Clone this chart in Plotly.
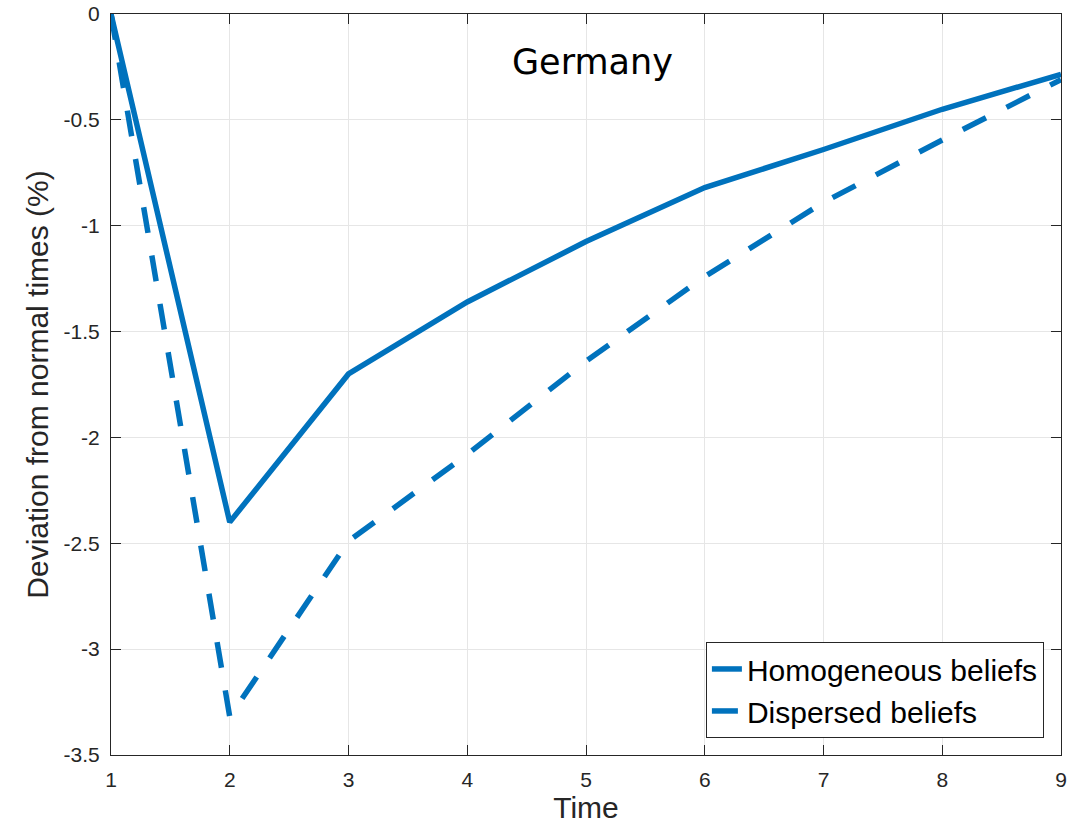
import plotly.graph_objects as go

# Simulated path of the shock, deviation from normal times (%)
time = [1, 2, 3, 4, 5, 6, 7, 8, 9]
homogeneous = [0.0, -2.40, -1.70, -1.36, -1.075, -0.82, -0.64, -0.45, -0.285]
dispersed = [0.0, -3.32, -2.49, -2.08, -1.64, -1.24, -0.89, -0.595, -0.31]

x_ticks = [1, 2, 3, 4, 5, 6, 7, 8, 9]
y_ticks = [0, -0.5, -1, -1.5, -2, -2.5, -3, -3.5]
y_tick_text = ["0", "-0.5", "-1", "-1.5", "-2", "-2.5", "-3", "-3.5"]

BLUE = "#0072BD"
AXIS = "#262626"
GRID = "#e6e6e6"
SANS = "Liberation Sans, Arial, Helvetica, sans-serif"

fig = go.Figure()
fig.add_trace(go.Scatter(
    x=time, y=homogeneous, mode="lines", name="Homogeneous beliefs",
    line=dict(color=BLUE, width=5.5),
))
fig.add_trace(go.Scatter(
    x=time, y=dispersed, mode="lines", name="Dispersed beliefs",
    line=dict(color=BLUE, width=5.5, dash="26px,23px"),
))

axis_common = dict(
    showline=True, linecolor=AXIS, linewidth=1, mirror="ticks",
    ticks="inside", ticklen=10, tickwidth=1, tickcolor=AXIS,
    showgrid=True, gridcolor=GRID, gridwidth=1,
    zeroline=False, automargin=False,
    tickfont=dict(family=SANS, size=21, color=AXIS),
)

fig.update_xaxes(
    range=[1, 9], tickvals=x_ticks, ticklabelstandoff=6,
    title=dict(text="Time", font=dict(family=SANS, size=30, color=AXIS), standoff=4),
    **axis_common,
)
fig.update_yaxes(
    range=[-3.5, 0], tickvals=y_ticks, ticktext=y_tick_text, ticklabelstandoff=6,
    title=dict(text="Deviation from normal times (%)",
               font=dict(family=SANS, size=30, color=AXIS), standoff=6),
    **axis_common,
)

fig.add_annotation(
    text="Germany", xref="paper", yref="paper", x=0.507, y=0.935,
    showarrow=False, font=dict(family="DejaVu Sans, Verdana, sans-serif", size=35, color="#000000"),
    xanchor="center", yanchor="middle",
)

fig.update_layout(
    width=1078, height=826,
    margin=dict(l=111, r=17, t=14, b=71),
    paper_bgcolor="white", plot_bgcolor="white",
    legend=dict(
        x=0.982, y=0.023, xanchor="right", yanchor="bottom",
        bgcolor="white", bordercolor=AXIS, borderwidth=1,
        font=dict(family=SANS, size=30, color="#000000"),
        tracegroupgap=0,
    ),
)

fig.write_html("out.html")
